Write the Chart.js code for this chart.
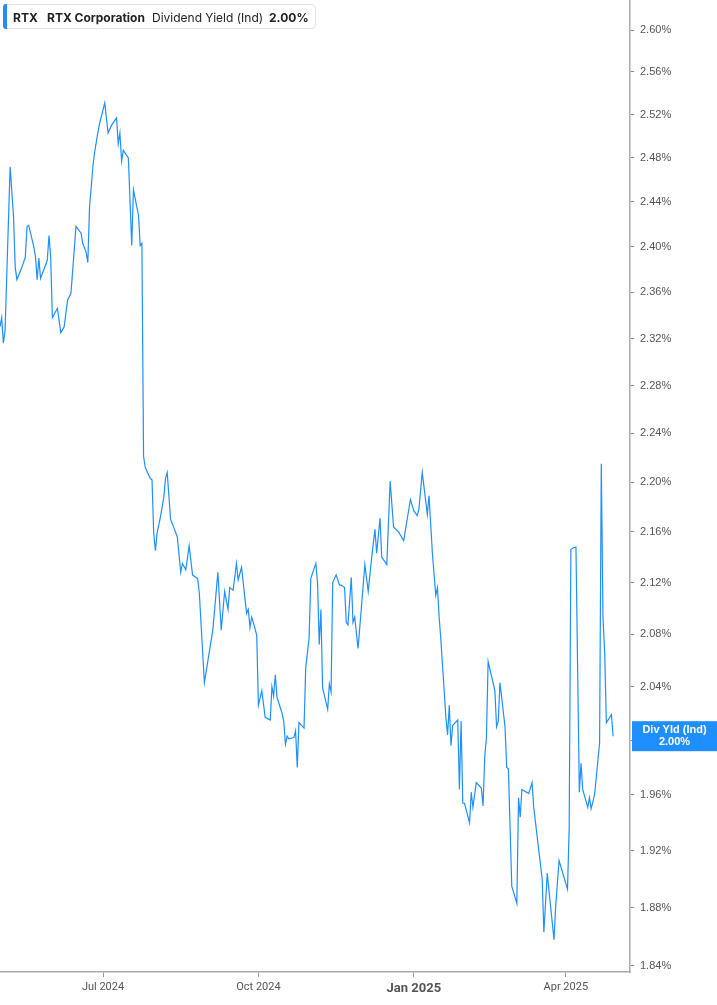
<!DOCTYPE html>
<html lang="en">
<head>
  <meta charset="UTF-8" />
  <title>RTX Dividend Yield (Ind)</title>
  <script src="https://cdn.jsdelivr.net/npm/chart.js"></script>
  <style>
    body {
      margin: 0;
      background: #fff;
      font-family: 'Inter', sans-serif;
    }
    .wrap {
      position: relative;
      width: 717px;
      height: 1005px;
    }
    .legend {
      position: absolute;
      left: 3px;
      top: 4px;
      width: 313px;
      height: 25px;
      border: 1px solid #e4e4e4;
      border-radius: 4px;
      background: #fff;
      font-size: 12px;
      color: #222;
      box-sizing: border-box;
    }
    .legend .bar {
      position: absolute;
      left: -1px;
      top: -1px;
      width: 4px;
      height: 25px;
      background: #1f8fff;
      border-radius: 3px 0 0 3px;
    }
    .legend span {
      position: absolute;
      top: 5px;
      white-space: nowrap;
    }
    .b { font-weight: 700; }
  </style>
</head>
<body>
<div class="wrap">
  <canvas id="chart" width="717" height="1005"></canvas>
  <div class="legend">
    <div class="bar"></div>
    <span class="b" style="left:9px">RTX</span>
    <span class="b" style="left:43px">RTX Corporation</span>
    <span style="left:148px">Dividend Yield (Ind)</span>
    <span class="b" style="left:265px">2.00%</span>
  </div>
</div>

<script>
// days counted from 2024-05-01
const dayOffsets = [
  0, 1, 2, 3, 6, 8, 9, 10, 13, 15, 16, 17, 20, 21, 22, 23, 24, 28, 29, 30,
  31, 34, 36, 38, 40, 42, 45, 48, 49, 51, 52, 53, 55, 56, 58, 59, 62, 64, 66, 69,
  70, 71, 72, 73, 76, 78, 79, 82, 83, 84, 85, 86, 89, 90, 91, 92, 93, 95, 97, 98,
  99, 101, 103, 105, 107, 108, 110, 112, 114, 117, 118, 121, 126, 129, 131, 133, 135, 136, 138, 140,
  141, 143, 146, 147, 148, 149, 150, 152, 153, 155, 157, 160, 161, 162, 163, 164, 167, 168, 169, 170,
  171, 174, 175, 176, 177, 180, 181, 183, 184, 187, 188, 189, 190, 191, 194, 195, 196, 197, 199, 201,
  202, 204, 205, 206, 208, 209, 210, 212, 214, 216, 218, 220, 222, 223, 225, 226, 229, 231, 233, 236,
  239, 243, 245, 247, 248, 250, 253, 254, 256, 258, 259, 260, 261, 264, 265, 266, 267, 268, 271, 272,
  273, 274, 275, 278, 279, 280, 282, 285, 286, 287, 288, 289, 293, 294, 295, 296, 299, 300, 301, 303,
  306, 307, 308, 309, 313, 315, 316, 321, 322, 324, 328, 329, 331, 333, 336, 337, 338, 339, 341, 343,
  344, 345, 348, 349, 350, 352, 355, 356, 357, 358, 359, 362, 363
];

const yieldPct = [
  2.330, 2.338, 2.316, 2.327, 2.472, 2.427, 2.382, 2.371, 2.382, 2.391, 2.418, 2.419, 2.400, 2.391, 2.371, 2.390, 2.372, 2.388, 2.410, 2.391,
  2.338, 2.346, 2.325, 2.330, 2.353, 2.359, 2.418, 2.412, 2.403, 2.395, 2.386, 2.435, 2.472, 2.485, 2.504, 2.512, 2.531, 2.503, 2.510, 2.517,
  2.493, 2.503, 2.477, 2.487, 2.480, 2.401, 2.451, 2.428, 2.401, 2.403, 2.221, 2.212, 2.203, 2.202, 2.159, 2.145, 2.159, 2.172, 2.188, 2.203,
  2.208, 2.170, 2.163, 2.156, 2.128, 2.135, 2.130, 2.149, 2.126, 2.123, 2.112, 2.043, 2.083, 2.128, 2.083, 2.113, 2.099, 2.116, 2.114, 2.135,
  2.122, 2.132, 2.096, 2.099, 2.085, 2.093, 2.089, 2.079, 2.026, 2.037, 2.017, 2.015, 2.040, 2.033, 2.049, 2.032, 2.020, 2.014, 1.997, 2.003,
  2.001, 2.002, 2.007, 1.980, 2.013, 2.009, 2.054, 2.077, 2.123, 2.135, 2.120, 2.072, 2.099, 2.039, 2.023, 2.042, 2.036, 2.120, 2.126, 2.118,
  2.118, 2.116, 2.089, 2.087, 2.124, 2.089, 2.093, 2.069, 2.101, 2.134, 2.113, 2.139, 2.162, 2.143, 2.171, 2.140, 2.134, 2.201, 2.164, 2.160,
  2.153, 2.186, 2.177, 2.173, 2.178, 2.208, 2.174, 2.189, 2.143, 2.110, 2.116, 2.093, 2.076, 2.017, 2.004, 2.026, 1.996, 2.011, 2.015, 1.964,
  2.014, 1.954, 1.954, 1.940, 1.962, 1.951, 1.969, 1.965, 1.952, 1.988, 2.002, 2.059, 2.037, 2.010, 2.014, 2.043, 2.010, 1.980, 1.979, 1.895,
  1.883, 1.958, 1.944, 1.964, 1.961, 1.969, 1.951, 1.900, 1.863, 1.904, 1.858, 1.881, 1.913, 1.905, 1.893, 1.937, 2.146, 2.147, 2.148, 1.962,
  1.983, 1.964, 1.951, 1.958, 1.950, 1.960, 1.998, 2.215, 2.093, 2.066, 2.013, 2.019, 2.003
];

const xTickDays = [61, 153, 245, 335];
const xTickLabels = ["Jul 2024", "Oct 2024", "Jan 2025", "Apr 2025"];
const yTicks = [1.84, 1.88, 1.92, 1.96, 2.00, 2.04, 2.08, 2.12, 2.16, 2.20, 2.24, 2.28,
                2.32, 2.36, 2.40, 2.44, 2.48, 2.52, 2.56, 2.60];

const lineColor = "#1f8fff";

const endLabel = {
  id: "endLabel",
  afterDraw(chart) {
    const ctx = chart.ctx;
    const y = chart.scales.y.getPixelForValue(yieldPct[yieldPct.length - 1]);
    const left = chart.chartArea.right + 2;
    ctx.save();
    ctx.fillStyle = lineColor;
    ctx.fillRect(left, y - 15, chart.width - left, 30);
    ctx.fillStyle = "#fff";
    ctx.font = "bold 11px 'Liberation Sans', Arial, sans-serif";
    ctx.textAlign = "center";
    ctx.textBaseline = "middle";
    const cx = left + (chart.width - left) / 2;
    ctx.fillText("Div Yld (Ind)", cx, y - 6);
    ctx.fillText("2.00%", cx, y + 6);
    ctx.restore();
  }
};

const ctx = document.getElementById("chart").getContext("2d");
new Chart(ctx, {
  type: "line",
  data: {
    datasets: [{
      data: dayOffsets.map((d, i) => ({ x: d, y: yieldPct[i] })),
      borderColor: lineColor,
      borderWidth: 1.2,
      pointRadius: 0,
      tension: 0,
      fill: false
    }]
  },
  options: {
    responsive: false,
    animation: false,
    layout: { padding: 0 },
    plugins: {
      legend: { display: false },
      tooltip: { enabled: false }
    },
    scales: {
      x: {
        type: "linear",
        bounds: "data",
        min: 0,
        max: 373,
        afterBuildTicks: s => { s.ticks = xTickDays.map(v => ({ value: v })); },
        afterFit: s => { s.height = 33; s.paddingLeft = 0; s.paddingRight = 0; },
        ticks: {
          autoSkip: false,
          maxRotation: 0,
          padding: 4,
          color: "#555",
          font: c => c.tick && c.tick.value === 245
            ? { family: "Roboto, sans-serif", size: 13, weight: "bold" }
            : { family: "Roboto, sans-serif", size: 11 },
          callback: v => xTickLabels[xTickDays.indexOf(v)]
        },
        grid: { drawOnChartArea: false, drawTicks: true, tickLength: 5, color: "#999" },
        border: { display: true, color: "#aaa", width: 1.5 }
      },
      y: {
        type: "logarithmic",
        position: "right",
        bounds: "data",
        min: 1.8359,
        max: 2.629,
        afterBuildTicks: s => { s.ticks = yTicks.map(v => ({ value: v })); },
        afterFit: s => { s.width = 87; s.paddingTop = 0; s.paddingBottom = 0; },
        ticks: {
          padding: 6,
          color: "#555",
          font: { family: "'Liberation Sans', Arial, sans-serif", size: 11 },
          callback: v => v.toFixed(2) + "%"
        },
        grid: { drawOnChartArea: false, drawTicks: true, tickLength: 4, color: "#888" },
        border: { display: true, color: "#aaa", width: 1.5 }
      }
    }
  },
  plugins: [endLabel]
});
</script>
</body>
</html>
